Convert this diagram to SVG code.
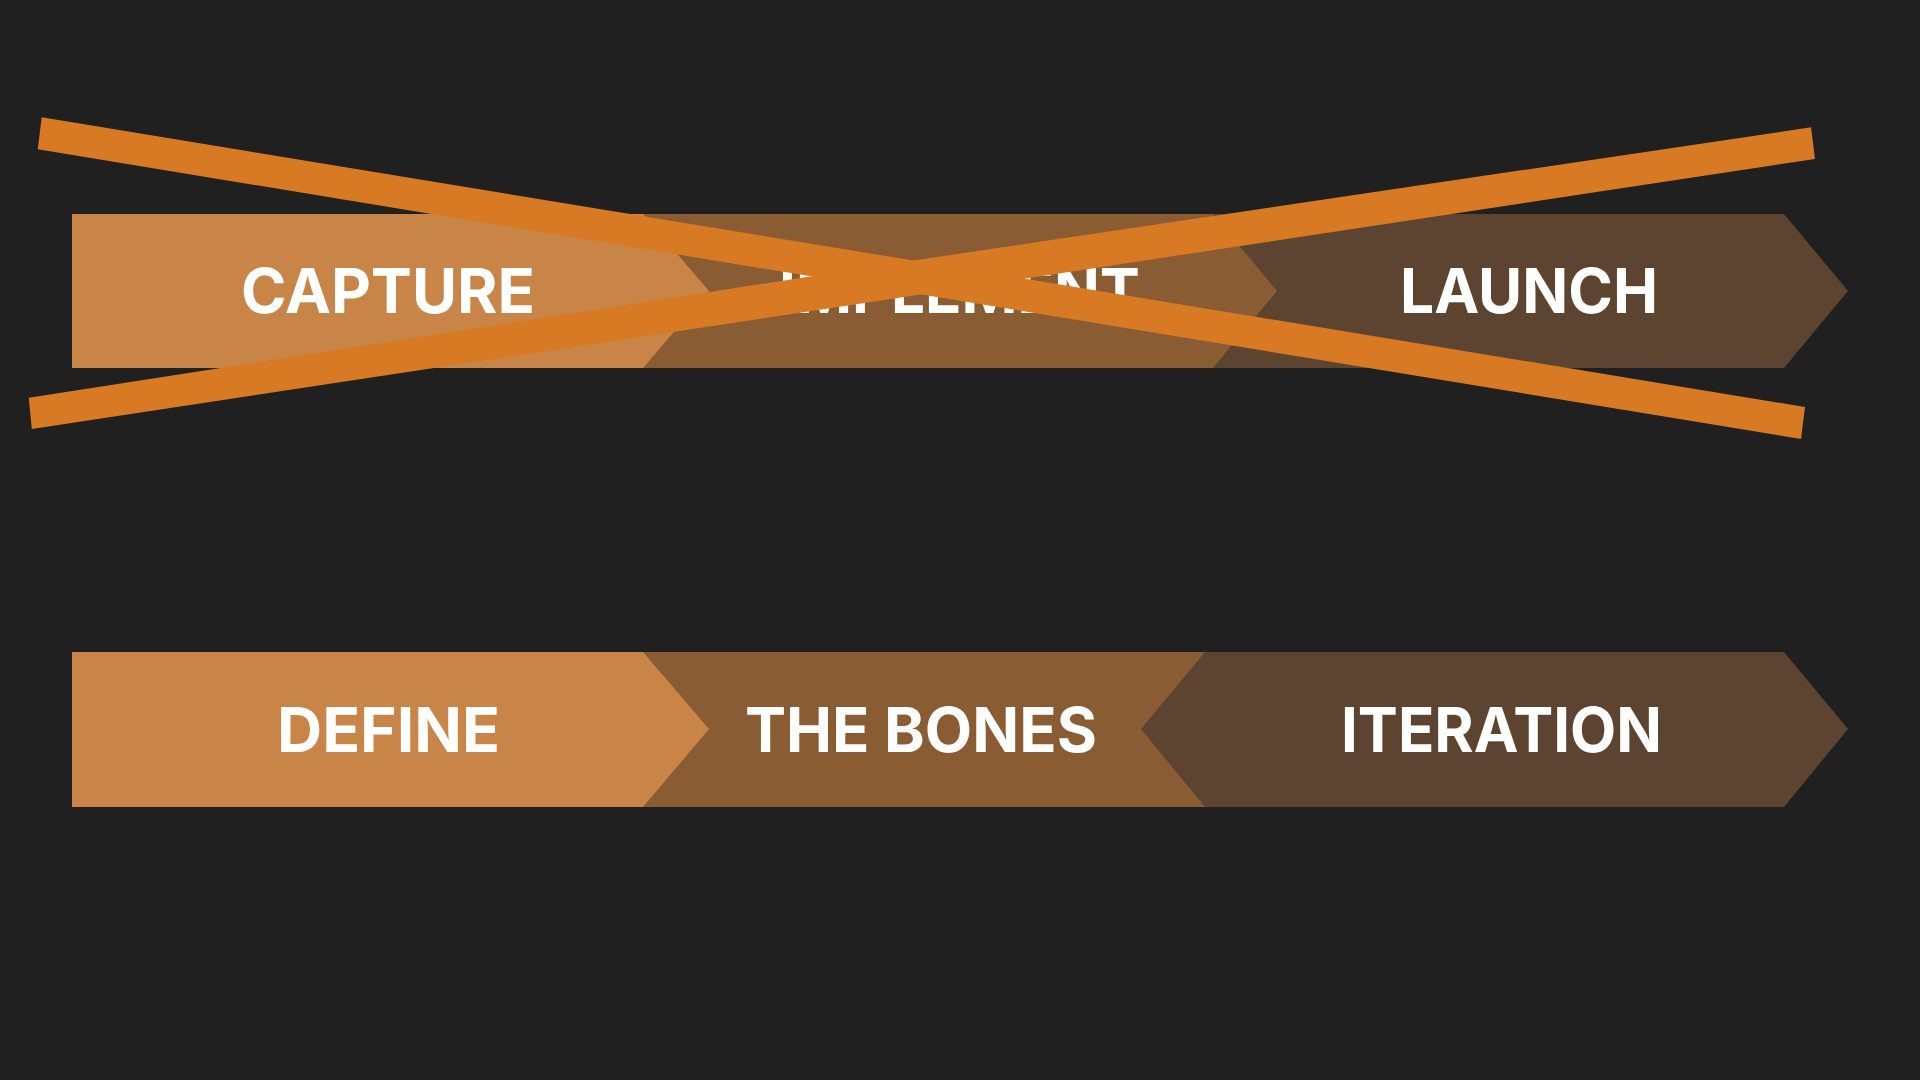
<svg xmlns="http://www.w3.org/2000/svg" width="1920" height="1080" viewBox="0 0 1920 1080">
<style>
.s1{fill:#C98448}
.s2{fill:#8A5C33}
.s3{fill:#5C4430}
.lbl{font-family:Inter,"Open Sans","Liberation Sans",sans-serif;font-weight:700;font-size:62px;fill:#FFFFFF}
.bar{fill:#D87A23}
</style>
<rect width="1920" height="1080" fill="#202020"/>
<g id="row-old">
  <g id="launch">
    <polygon class="s3" points="1200,214 1784,214 1848,291 1784,368 1200,368"/>
    <text class="lbl" x="1400" y="313" textLength="258" lengthAdjust="spacingAndGlyphs">LAUNCH</text>
  </g>
  <g id="implement">
    <polygon class="s2" points="630,214 1213,214 1277,291 1213,368 630,368"/>
    <text class="lbl" x="779" y="313" textLength="361" lengthAdjust="spacingAndGlyphs">IMPLEMENT</text>
  </g>
  <g id="capture">
    <polygon class="s1" points="72,214 643,214 709,291 643,368 72,368"/>
    <text class="lbl" x="241" y="313" textLength="294" lengthAdjust="spacingAndGlyphs">CAPTURE</text>
  </g>
</g>
<g id="row-new">
  <g id="the-bones">
    <polygon class="s2" points="630,652 1210,652 1210,807 630,807"/>
    <text class="lbl" x="745" y="752" textLength="352" lengthAdjust="spacingAndGlyphs">THE BONES</text>
  </g>
  <g id="iteration">
    <polygon class="s3" points="1205,652 1784,652 1848,729 1784,807 1205,807 1141,729"/>
    <text class="lbl" x="1341" y="752" textLength="321" lengthAdjust="spacingAndGlyphs">ITERATION</text>
  </g>
  <g id="define">
    <polygon class="s1" points="72,652 643,652 709,729 643,807 72,807"/>
    <text class="lbl" x="277" y="752" textLength="223" lengthAdjust="spacingAndGlyphs">DEFINE</text>
  </g>
</g>
<g id="cross">
  <polygon class="bar" points="41.7,117.3 1805,407 1801,439 37.7,149.3"/>
  <polygon class="bar" points="28.8,397.7 900,262.5 1811,127.3 1815,159 31.8,429"/>
</g>
</svg>
